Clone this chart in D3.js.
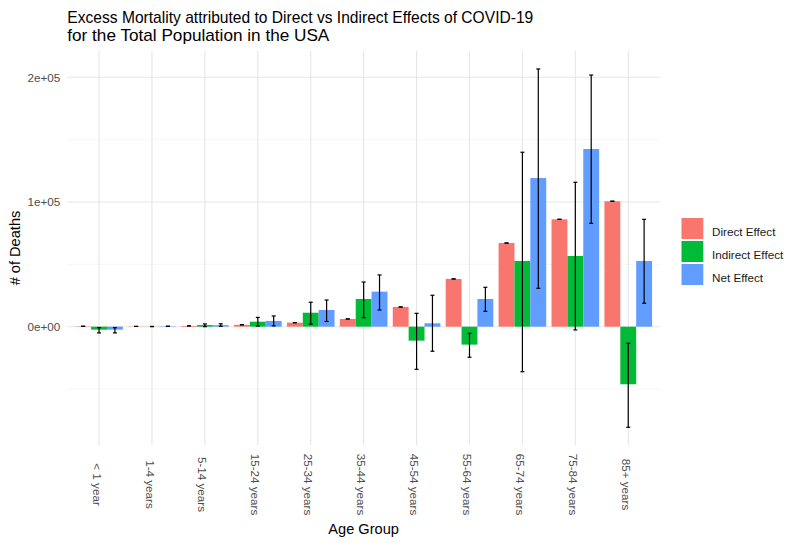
<!DOCTYPE html>
<html>
<head>
<meta charset="utf-8">
<script src="https://cdnjs.cloudflare.com/ajax/libs/d3/7.8.5/d3.min.js"></script>
<style>
  html, body { margin: 0; padding: 0; background: #fff; }
  svg { display: block; font-family: "Liberation Sans", Arial, sans-serif; }
</style>
</head>
<body>
<svg id="chart" width="800" height="543"></svg>
<script>
// ---- data ----
const categories = ["< 1 year", "1-4 years", "5-14 years", "15-24 years", "25-34 years", "35-44 years",
                    "45-54 years", "55-64 years", "65-74 years", "75-84 years", "85+ years"];
const seriesNames = ["Direct Effect", "Indirect Effect", "Net Effect"];
const seriesColors = ["#F8766D", "#00BA38", "#619CFF"];

const directValues   = [300, 200, 600, 1500, 3200, 6200, 15800, 38300, 67100, 86100, 100600];
const directLower    = [300, 200, 600, 1500, 3200, 6200, 15800, 38300, 67100, 86100, 100600];
const directUpper    = [300, 200, 600, 1500, 3200, 6200, 15800, 38300, 67100, 86100, 100600];

const indirectValues = [-2400, 100, 1300, 4000, 11200, 22200, -11200, -14400, 52700, 56700, -46200];
const indirectLower  = [-5000, 0, 0, 500, 2000, 7200, -34200, -24500, -36100, -2600, -80700];
const indirectUpper  = [-800, 200, 2200, 7400, 19600, 35800, 10700, -5300, 139900, 115800, -13300];

const netValues      = [-2400, 300, 1200, 4600, 13400, 28100, 2700, 22200, 119200, 142500, 52700];
const netLower       = [-5000, 200, 300, 600, 4200, 13400, -19700, 12300, 30800, 82900, 18800];
const netUpper       = [-800, 400, 2300, 8600, 21400, 41500, 25200, 31600, 206700, 201800, 86100];

const yMajorTicks = [0, 100000, 200000];
const yMajorLabels = ["0e+00", "1e+05", "2e+05"];
const yMinorTicks = [-50000, 50000, 150000];

const titleLines = ["Excess Mortality attributed to Direct vs Indirect Effects of COVID-19",
                    "for the Total Population in the USA"];
const xTitle = "Age Group";
const yTitle = "# of Deaths";

// ---- build rows ----
const valueSets = [directValues, indirectValues, netValues];
const lowerSets = [directLower, indirectLower, netLower];
const upperSets = [directUpper, indirectUpper, netUpper];
const rows = [];
categories.forEach((c, i) => {
  seriesNames.forEach((s, j) => {
    rows.push({cat: c, series: s, color: seriesColors[j],
               value: valueSets[j][i], lo: lowerSets[j][i], hi: upperSets[j][i]});
  });
});

// ---- layout ----
const panel = {left: 67.3, right: 660, top: 51, bottom: 445};
const svg = d3.select("#chart");

const x = d3.scaleBand().domain(categories).range([panel.left, panel.right])
  .paddingInner(0).paddingOuter(0.1);
const step = x.bandwidth();
const xs = d3.scaleBand().domain(seriesNames).range([0.05 * step, 0.95 * step]).padding(0);
const y = d3.scaleLinear().domain([-94900, 221100]).range([panel.bottom, panel.top]);

// grid
const grid = svg.append("g");
grid.selectAll("line.minor").data(yMinorTicks).enter().append("line")
  .attr("x1", panel.left).attr("x2", panel.right)
  .attr("y1", d => y(d)).attr("y2", d => y(d))
  .attr("stroke", "#f0f0f0").attr("stroke-width", 0.6);
grid.selectAll("line.major").data(yMajorTicks).enter().append("line")
  .attr("x1", panel.left).attr("x2", panel.right)
  .attr("y1", d => y(d)).attr("y2", d => y(d))
  .attr("stroke", "#e6e6e6").attr("stroke-width", 1.1);
grid.selectAll("line.vx").data(categories).enter().append("line")
  .attr("x1", d => x(d) + step / 2).attr("x2", d => x(d) + step / 2)
  .attr("y1", panel.top).attr("y2", panel.bottom)
  .attr("stroke", "#e6e6e6").attr("stroke-width", 1.1);

// bars
svg.append("g").selectAll("rect").data(rows).enter().append("rect")
  .attr("x", d => x(d.cat) + xs(d.series))
  .attr("width", xs.bandwidth())
  .attr("y", d => Math.min(y(d.value), y(0)))
  .attr("height", d => Math.abs(y(d.value) - y(0)))
  .attr("fill", d => d.color);

// error bars
const capW = 4;
const eb = svg.append("g").attr("stroke", "#000").attr("stroke-width", 1.2);
rows.forEach(d => {
  const cx = x(d.cat) + xs(d.series) + xs.bandwidth() / 2;
  eb.append("line").attr("x1", cx).attr("x2", cx).attr("y1", y(d.lo)).attr("y2", y(d.hi));
  eb.append("line").attr("x1", cx - capW / 2).attr("x2", cx + capW / 2).attr("y1", y(d.lo)).attr("y2", y(d.lo));
  eb.append("line").attr("x1", cx - capW / 2).attr("x2", cx + capW / 2).attr("y1", y(d.hi)).attr("y2", y(d.hi));
});

// y axis labels
const yAxis = d3.axisLeft(y).tickValues(yMajorTicks)
  .tickFormat((d, i) => yMajorLabels[i]).tickSize(0).tickPadding(0);
const yg = svg.append("g").attr("transform", `translate(${panel.left - 7},0)`).call(yAxis);
yg.select(".domain").remove();
yg.selectAll("text").attr("fill", "#4d4d4d").style("font-size", "11.7px")
  .style("font-family", "'Liberation Sans', Arial, sans-serif");

// x axis labels (rotated)
const xl = svg.append("g");
categories.forEach(c => {
  const cx = x(c) + step / 2;
  xl.append("text")
    .attr("transform", `translate(${cx},484.5) rotate(90)`)
    .attr("text-anchor", "middle").attr("dy", "0.55em")
    .attr("fill", "#4d4d4d").style("font-size", "11.7px")
    .text(c);
});

// axis titles
svg.append("text").attr("x", (panel.left + panel.right) / 2).attr("y", 534)
  .attr("text-anchor", "middle").attr("fill", "#000").style("font-size", "14.6px").text(xTitle);
svg.append("text").attr("transform", `translate(19.5,${(panel.top + panel.bottom) / 2}) rotate(-90)`)
  .attr("text-anchor", "middle").attr("fill", "#000").style("font-size", "14.6px").text(yTitle);

// title
const titleWidths = [466, 262];
titleLines.forEach((t, i) => {
  svg.append("text").attr("x", 67.3).attr("y", 22.7 + i * 18.3)
    .attr("fill", "#000").style("font-size", "17px")
    .attr("textLength", titleWidths[i]).attr("lengthAdjust", "spacingAndGlyphs")
    .text(t);
});

// legend
const lg = svg.append("g");
seriesNames.forEach((s, i) => {
  lg.append("rect").attr("x", 681.5).attr("y", 218 + i * 23).attr("width", 21.8).attr("height", 21)
    .attr("fill", seriesColors[i]);
  lg.append("text").attr("x", 712).attr("y", 235.5 + i * 23)
    .attr("fill", "#1a1a1a").style("font-size", "11.7px").text(s);
});
</script>
</body>
</html>
